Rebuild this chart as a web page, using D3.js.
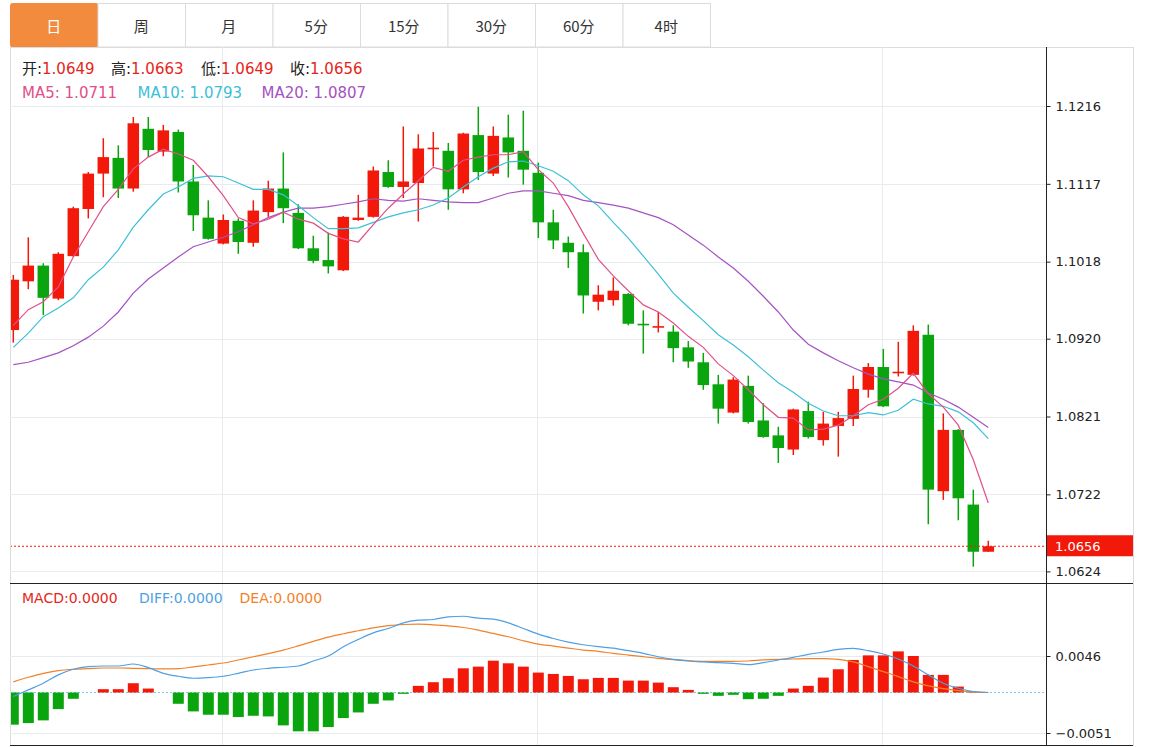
<!DOCTYPE html>
<html>
<head>
<meta charset="utf-8">
<script src="https://cdnjs.cloudflare.com/ajax/libs/d3/7.8.5/d3.min.js"></script>
<style>
body { margin: 0; background: #fff; }
svg { display: block; }
</style>
</head>
<body>
<div id="chart"></div>
<script>
// tabs across the top
const tabs = ['日', '周', '月', '5分', '15分', '30分', '60分', '4时'];

// daily candles
const opens = [1.0931,1.0993,1.1013,1.0971,1.1025,1.1085,1.1130,1.1150,1.1111,1.1187,
    1.1158,1.1183,1.1120,1.1074,1.1041,1.1070,1.1042,1.1081,1.1111,1.1080,
    1.1035,1.1020,1.1007,1.1071,1.1075,1.1132,1.1113,1.1118,1.1161,1.1159,
    1.1110,1.1179,1.1130,1.1176,1.1159,1.1131,1.1068,1.1042,1.1030,1.0967,
    1.0969,1.0977,1.0939,1.0934,1.0929,1.0909,1.0890,1.0862,1.0826,1.0860,
    1.0816,1.0797,1.0779,1.0828,1.0791,1.0809,1.0818,1.0855,1.0884,1.0876,
    1.0874,1.0925,1.0726,1.0804,1.0709,1.0649];
const highs = [1.1001,1.1049,1.1016,1.1030,1.1088,1.1132,1.1175,1.1166,1.1202,1.1202,
    1.1192,1.1186,1.1141,1.1096,1.1078,1.1073,1.1096,1.1121,1.1157,1.1091,
    1.1051,1.1055,1.1076,1.1103,1.1139,1.1147,1.1190,1.1180,1.1183,1.1169,
    1.1182,1.1215,1.1190,1.1205,1.1210,1.1144,1.1084,1.1050,1.1040,1.0988,
    1.0998,1.0978,1.0956,1.0954,1.0937,1.0917,1.0902,1.0874,1.0871,1.0873,
    1.0838,1.0808,1.0831,1.0840,1.0827,1.0827,1.0873,1.0889,1.0907,1.0916,
    1.0937,1.0938,1.0825,1.0805,1.0728,1.0663];
const lows = [1.0915,1.0983,1.0950,1.0969,1.1024,1.1073,1.1100,1.1099,1.1107,1.1151,
    1.1152,1.1106,1.1057,1.1046,1.1040,1.1028,1.1037,1.1075,1.1067,1.1034,
    1.1016,1.1003,1.1006,1.1070,1.1074,1.1112,1.1099,1.1069,1.1139,1.1084,
    1.1105,1.1122,1.1127,1.1125,1.1116,1.1048,1.1034,1.1010,1.0952,1.0956,
    1.0962,1.0937,1.0901,1.0928,1.0890,1.0883,1.0855,1.0812,1.0825,1.0812,
    1.0794,1.0762,1.0772,1.0793,1.0784,1.0770,1.0809,1.0845,1.0833,1.0872,
    1.0873,1.0684,1.0715,1.0689,1.0630,1.0649];
const closes = [1.0995,1.1013,1.0972,1.1028,1.1086,1.1130,1.1151,1.1111,1.1194,1.1160,
    1.1185,1.1120,1.1077,1.1047,1.1071,1.1043,1.1083,1.1111,1.1086,1.1035,
    1.1019,1.1012,1.1075,1.1074,1.1134,1.1113,1.1120,1.1162,1.1163,1.1110,
    1.1181,1.1132,1.1178,1.1157,1.1135,1.1068,1.1045,1.1030,1.0975,1.0976,
    1.0981,1.0939,1.0937,1.0936,1.0908,1.0891,1.0861,1.0831,1.0868,1.0814,
    1.0795,1.0781,1.0830,1.0795,1.0812,1.0819,1.0856,1.0884,1.0834,1.0878,
    1.0930,1.0728,1.0804,1.0717,1.0649,1.0656];

// moving averages
const ma5 = [1.0937,1.0957,1.0967,1.0986,1.1024,1.1056,1.1088,1.1110,1.1136,1.1151,
    1.1161,1.1155,1.1147,1.1126,1.1102,1.1074,1.1066,1.1072,1.1081,1.1072,
    1.1067,1.1054,1.1047,1.1043,1.1065,1.1086,1.1104,1.1121,1.1138,1.1133,
    1.1147,1.1151,1.1154,1.1154,1.1158,1.1135,1.1118,1.1088,1.1054,1.1021,
    1.1000,1.0981,1.0963,1.0954,1.0940,1.0923,1.0909,1.0888,1.0873,1.0855,
    1.0836,1.0820,1.0819,1.0804,1.0805,1.0810,1.0822,1.0836,1.0843,1.0857,
    1.0876,1.0850,1.0833,1.0810,1.0766,1.0711];
const ma10 = [1.0909,1.0927,1.0948,1.0959,1.0972,1.0995,1.1011,1.1033,1.1062,1.1084,
    1.1104,1.1113,1.1124,1.1127,1.1126,1.1118,1.1110,1.1110,1.1103,1.1089,
    1.1074,1.1060,1.1060,1.1061,1.1068,1.1075,1.1080,1.1084,1.1090,1.1099,
    1.1113,1.1126,1.1137,1.1145,1.1146,1.1140,1.1133,1.1121,1.1103,1.1089,
    1.1068,1.1048,1.1025,1.1002,1.0978,1.0960,1.0943,1.0925,1.0912,1.0897,
    1.0880,1.0864,1.0852,1.0838,1.0828,1.0822,1.0822,1.0826,1.0823,1.0829,
    1.0843,1.0837,1.0834,1.0827,1.0813,1.0793];
const ma20 = [1.0887,1.0890,1.0896,1.0902,1.0911,1.0922,1.0936,1.0954,1.0978,1.0996,
    1.1010,1.1024,1.1037,1.1043,1.1049,1.1056,1.1065,1.1074,1.1081,1.1086,
    1.1086,1.1088,1.1091,1.1094,1.1098,1.1096,1.1095,1.1098,1.1096,1.1094,
    1.1093,1.1093,1.1099,1.1105,1.1108,1.1108,1.1105,1.1102,1.1096,1.1093,
    1.1090,1.1086,1.1080,1.1074,1.1065,1.1052,1.1039,1.1024,1.1010,1.0993,
    1.0974,1.0954,1.0931,1.0913,1.0902,1.0892,1.0883,1.0875,1.0869,1.0865,
    1.0861,1.0851,1.0843,1.0833,1.0820,1.0807];

// MACD pane
const macd = [-0.00405,-0.00385,-0.00351,-0.00209,-0.00079,0,0.00042,0.00042,0.00117,0.00050,
    0,-0.00142,-0.00238,-0.00280,-0.00280,-0.00309,-0.00293,-0.00301,-0.00414,-0.00489,
    -0.00489,-0.00435,-0.00322,-0.00251,-0.00142,-0.00100,-0.00017,0.00084,0.00130,0.00180,
    0.00305,0.00326,0.00401,0.00368,0.00326,0.00251,0.00234,0.00209,0.00167,0.00184,
    0.00184,0.00150,0.00150,0.00125,0.00067,0.00033,-0.00017,-0.00042,-0.00029,-0.00084,
    -0.00079,-0.00042,0.00050,0.00084,0.00188,0.00293,0.00410,0.00468,0.00468,0.00518,
    0.00460,0.00222,0.00222,0.00075,0.00008,0];
const diff = [-0.00050,0.00033,0.00117,0.00222,0.00293,0.00326,0.00334,0.00334,0.00359,0.00314,
    0.00242,0.00205,0.00180,0.00188,0.00205,0.00242,0.00284,0.00305,0.00318,0.00334,
    0.00397,0.00460,0.00577,0.00669,0.00752,0.00807,0.00878,0.00911,0.00920,0.00953,
    0.00961,0.00936,0.00924,0.00878,0.00807,0.00736,0.00681,0.00635,0.00602,0.00577,
    0.00560,0.00527,0.00493,0.00451,0.00418,0.00397,0.00385,0.00376,0.00368,0.00351,
    0.00376,0.00410,0.00443,0.00481,0.00510,0.00543,0.00556,0.00527,0.00485,0.00422,
    0.00334,0.00222,0.00117,0.00054,0.00013,0];
const dea = [0.00134,0.00192,0.00242,0.00276,0.00293,0.00301,0.00309,0.00309,0.00305,0.00301,
    0.00297,0.00301,0.00322,0.00347,0.00372,0.00410,0.00451,0.00489,0.00533,0.00587,
    0.00644,0.00698,0.00740,0.00778,0.00815,0.00842,0.00857,0.00861,0.00853,0.00840,
    0.00819,0.00786,0.00744,0.00702,0.00652,0.00610,0.00585,0.00560,0.00535,0.00518,
    0.00493,0.00472,0.00451,0.00431,0.00414,0.00401,0.00393,0.00393,0.00393,0.00397,
    0.00410,0.00418,0.00422,0.00426,0.00426,0.00418,0.00385,0.00326,0.00263,0.00201,
    0.00134,0.00084,0.00050,0.00025,0.00008,0];

const priceTicks = [1.1216, 1.1117, 1.1018, 1.0920, 1.0821, 1.0722, 1.0624];
const macdTicks = [0.0046, -0.0051];
const monthStarts = [14, 35, 58]; // candles where the vertical grid sits
const lastPrice = 1.0656;

const RED = '#f2190b', GREEN = '#0aa50e';
const C_MA5 = '#e0508a', C_MA10 = '#3cc0d6', C_MA20 = '#a552c2';
const C_DIFF = '#4f9fe2', C_DEA = '#f2822a';
const GRID = '#e7ecf1', BORDER = '#dcdcdc';
const NUM_FONT = '"DejaVu Sans", Verdana, sans-serif';
const CN_FONT = '"Noto Sans CJK SC", "Noto Sans", sans-serif';
const INFO_FONT = '"DejaVu Sans", "Noto Sans CJK SC", sans-serif';

const width = 1149, height = 747;
const leftX = 10, axisX = 1046, outerX = 1133;
const topY = 47, splitY = 583, bottomY = 746;

const svg = d3.select('#chart').append('svg')
    .attr('width', width)
    .attr('height', height);

// ---- tabs
const tabW = 87.5;
const tabG = svg.append('g');
tabs.forEach((t, i) => {
    const x0 = leftX + i * tabW;
    tabG.append('rect')
        .attr('x', x0 + 0.5).attr('y', 3.5)
        .attr('width', tabW).attr('height', 43.5)
        .attr('rx', i === 0 ? 2 : 0)
        .attr('fill', i === 0 ? '#f38b3e' : '#fff')
        .attr('stroke', i === 0 ? '#f38b3e' : BORDER);
    tabG.append('text')
        .attr('x', x0 + tabW / 2).attr('y', 32)
        .attr('text-anchor', 'middle')
        .style('font-family', CN_FONT)
        .style('font-size', '15px')
        .attr('fill', i === 0 ? '#fff' : '#333')
        .text(t);
});

// ---- frame
svg.append('line').attr('x1', leftX).attr('x2', outerX).attr('y1', topY + 0.5).attr('y2', topY + 0.5).attr('stroke', BORDER);
svg.append('line').attr('x1', leftX + 0.5).attr('x2', leftX + 0.5).attr('y1', topY).attr('y2', bottomY).attr('stroke', BORDER);
svg.append('line').attr('x1', outerX + 0.5).attr('x2', outerX + 0.5).attr('y1', topY).attr('y2', bottomY).attr('stroke', BORDER);

// ---- scales
const n = opens.length;
const x = d3.scalePoint().domain(d3.range(n)).range([13.3, 988.3]);
const y = d3.scaleLinear().domain([1.0624, 1.1216]).range([571.4, 106]);
const ym = d3.scaleLinear().domain([-0.0051, 0.0046]).range([733, 656]);

svg.append('defs').append('clipPath').attr('id', 'plot')
    .append('rect').attr('x', leftX + 1).attr('y', topY).attr('width', axisX - leftX - 1).attr('height', bottomY - topY);

// ---- grid
const grid = svg.append('g');
grid.selectAll('.hg').data(priceTicks).join('line')
    .attr('x1', leftX).attr('x2', axisX)
    .attr('y1', d => Math.round(y(d)) + 0.5).attr('y2', d => Math.round(y(d)) + 0.5)
    .attr('stroke', GRID);
grid.selectAll('.mg').data(macdTicks).join('line')
    .attr('x1', leftX).attr('x2', axisX)
    .attr('y1', d => Math.round(ym(d)) + 0.5).attr('y2', d => Math.round(ym(d)) + 0.5)
    .attr('stroke', GRID);
grid.selectAll('.vg').data(monthStarts).join('line')
    .attr('x1', d => Math.round(x(d)) - 0.5).attr('x2', d => Math.round(x(d)) - 0.5)
    .attr('y1', topY).attr('y2', bottomY)
    .attr('stroke', GRID);

const plot = svg.append('g').attr('clip-path', 'url(#plot)');

// ---- candles
const candles = plot.append('g').selectAll('g').data(d3.range(n)).join('g');
const col = i => closes[i] >= opens[i] ? RED : GREEN;
candles.append('line')
    .attr('x1', i => x(i)).attr('x2', i => x(i))
    .attr('y1', i => y(highs[i])).attr('y2', i => y(lows[i]))
    .attr('stroke', col).attr('stroke-width', 1.5);
candles.append('rect')
    .attr('x', i => x(i) - 5.75).attr('width', 11.5)
    .attr('y', i => y(Math.max(opens[i], closes[i])))
    .attr('height', i => Math.max(1.6, Math.abs(y(opens[i]) - y(closes[i]))))
    .attr('fill', col);

// ---- moving averages
const maLine = d3.line().x((d, i) => x(i)).y(d => y(d));
[[ma20, C_MA20], [ma10, C_MA10], [ma5, C_MA5]].forEach(([data, c]) => {
    plot.append('path').datum(data)
        .attr('d', maLine)
        .attr('fill', 'none')
        .attr('stroke', c)
        .attr('stroke-width', 1.2);
});

// last price line
plot.append('line')
    .attr('x1', leftX).attr('x2', axisX)
    .attr('y1', y(lastPrice)).attr('y2', y(lastPrice))
    .attr('stroke', RED).attr('stroke-dasharray', '2,2');

// ---- MACD
plot.append('line')
    .attr('x1', leftX).attr('x2', axisX)
    .attr('y1', ym(0)).attr('y2', ym(0))
    .attr('stroke', '#7ccbe8').attr('stroke-dasharray', '2,2');
plot.append('g').selectAll('rect').data(macd).join('rect')
    .attr('x', (d, i) => x(i) - 5.5).attr('width', 11)
    .attr('y', d => ym(Math.max(0, d)))
    .attr('height', d => Math.abs(ym(d) - ym(0)))
    .attr('fill', d => d >= 0 ? RED : GREEN);
const mLine = d3.line().x((d, i) => x(i)).y(d => ym(d)).curve(d3.curveMonotoneX);
[[dea, C_DEA], [diff, C_DIFF]].forEach(([data, c]) => {
    plot.append('path').datum(data)
        .attr('d', mLine)
        .attr('fill', 'none')
        .attr('stroke', c)
        .attr('stroke-width', 1.2);
});

// ---- axes lines
svg.append('line').attr('x1', leftX).attr('x2', outerX).attr('y1', splitY + 0.5).attr('y2', splitY + 0.5).attr('stroke', '#222');
svg.append('line').attr('x1', leftX).attr('x2', outerX).attr('y1', bottomY - 0.5).attr('y2', bottomY - 0.5).attr('stroke', '#222');

const axisP = svg.append('g')
    .attr('transform', `translate(${axisX + 0.5},0)`)
    .call(d3.axisRight(y).tickValues(priceTicks).tickFormat(d3.format('.4f')).tickSize(4).tickPadding(5));
const axisM = svg.append('g')
    .attr('transform', `translate(${axisX + 0.5},0)`)
    .call(d3.axisRight(ym).tickValues(macdTicks).tickFormat(d3.format('.4f')).tickSize(4).tickPadding(5));
[axisP, axisM].forEach(g => {
    g.select('.domain').remove();
    g.selectAll('line').attr('stroke', '#222');
    g.selectAll('text').attr('fill', '#222')
        .style('font-family', NUM_FONT).style('font-size', '13px');
});
svg.append('line').attr('x1', axisX + 0.5).attr('x2', axisX + 0.5).attr('y1', topY).attr('y2', bottomY).attr('stroke', '#222');

// last price tag
svg.append('rect')
    .attr('x', axisX + 1).attr('y', y(lastPrice) - 11)
    .attr('width', outerX - axisX - 1).attr('height', 21)
    .attr('fill', RED);
svg.append('text')
    .attr('x', 1055).attr('y', y(lastPrice))
    .attr('dy', '0.35em')
    .attr('fill', '#fff')
    .style('font-family', NUM_FONT).style('font-size', '13px')
    .text(lastPrice.toFixed(4));

// ---- info texts
const fmt = d3.format('.4f');
const info = [
    ['开:', opens[n - 1], 22],
    ['高:', highs[n - 1], 111],
    ['低:', lows[n - 1], 201],
    ['收:', closes[n - 1], 290]
];
info.forEach(([k, v, px]) => {
    const t = svg.append('text').attr('x', px).attr('y', 74)
        .style('font-family', INFO_FONT).style('font-size', '15px');
    t.append('tspan').attr('fill', '#222').text(k);
    t.append('tspan').attr('fill', '#e4261a').text(fmt(v));
});

const maInfo = [
    ['MA5: ', ma5[n - 1], 22, C_MA5],
    ['MA10: ', ma10[n - 1], 137.5, C_MA10],
    ['MA20: ', ma20[n - 1], 261.5, C_MA20]
];
maInfo.forEach(([k, v, px, c]) => {
    svg.append('text').attr('x', px).attr('y', 98)
        .attr('fill', c)
        .style('font-family', INFO_FONT).style('font-size', '15px')
        .text(k + fmt(v));
});

const macdInfo = [
    ['MACD:0.0000', 22, '#e4261a'],
    ['DIFF:0.0000', 139, C_DIFF],
    ['DEA:0.0000', 239.5, C_DEA]
];
macdInfo.forEach(([s, px, c]) => {
    svg.append('text').attr('x', px).attr('y', 603)
        .attr('fill', c)
        .style('font-family', INFO_FONT).style('font-size', '14px')
        .text(s);
});
</script>
</body>
</html>
